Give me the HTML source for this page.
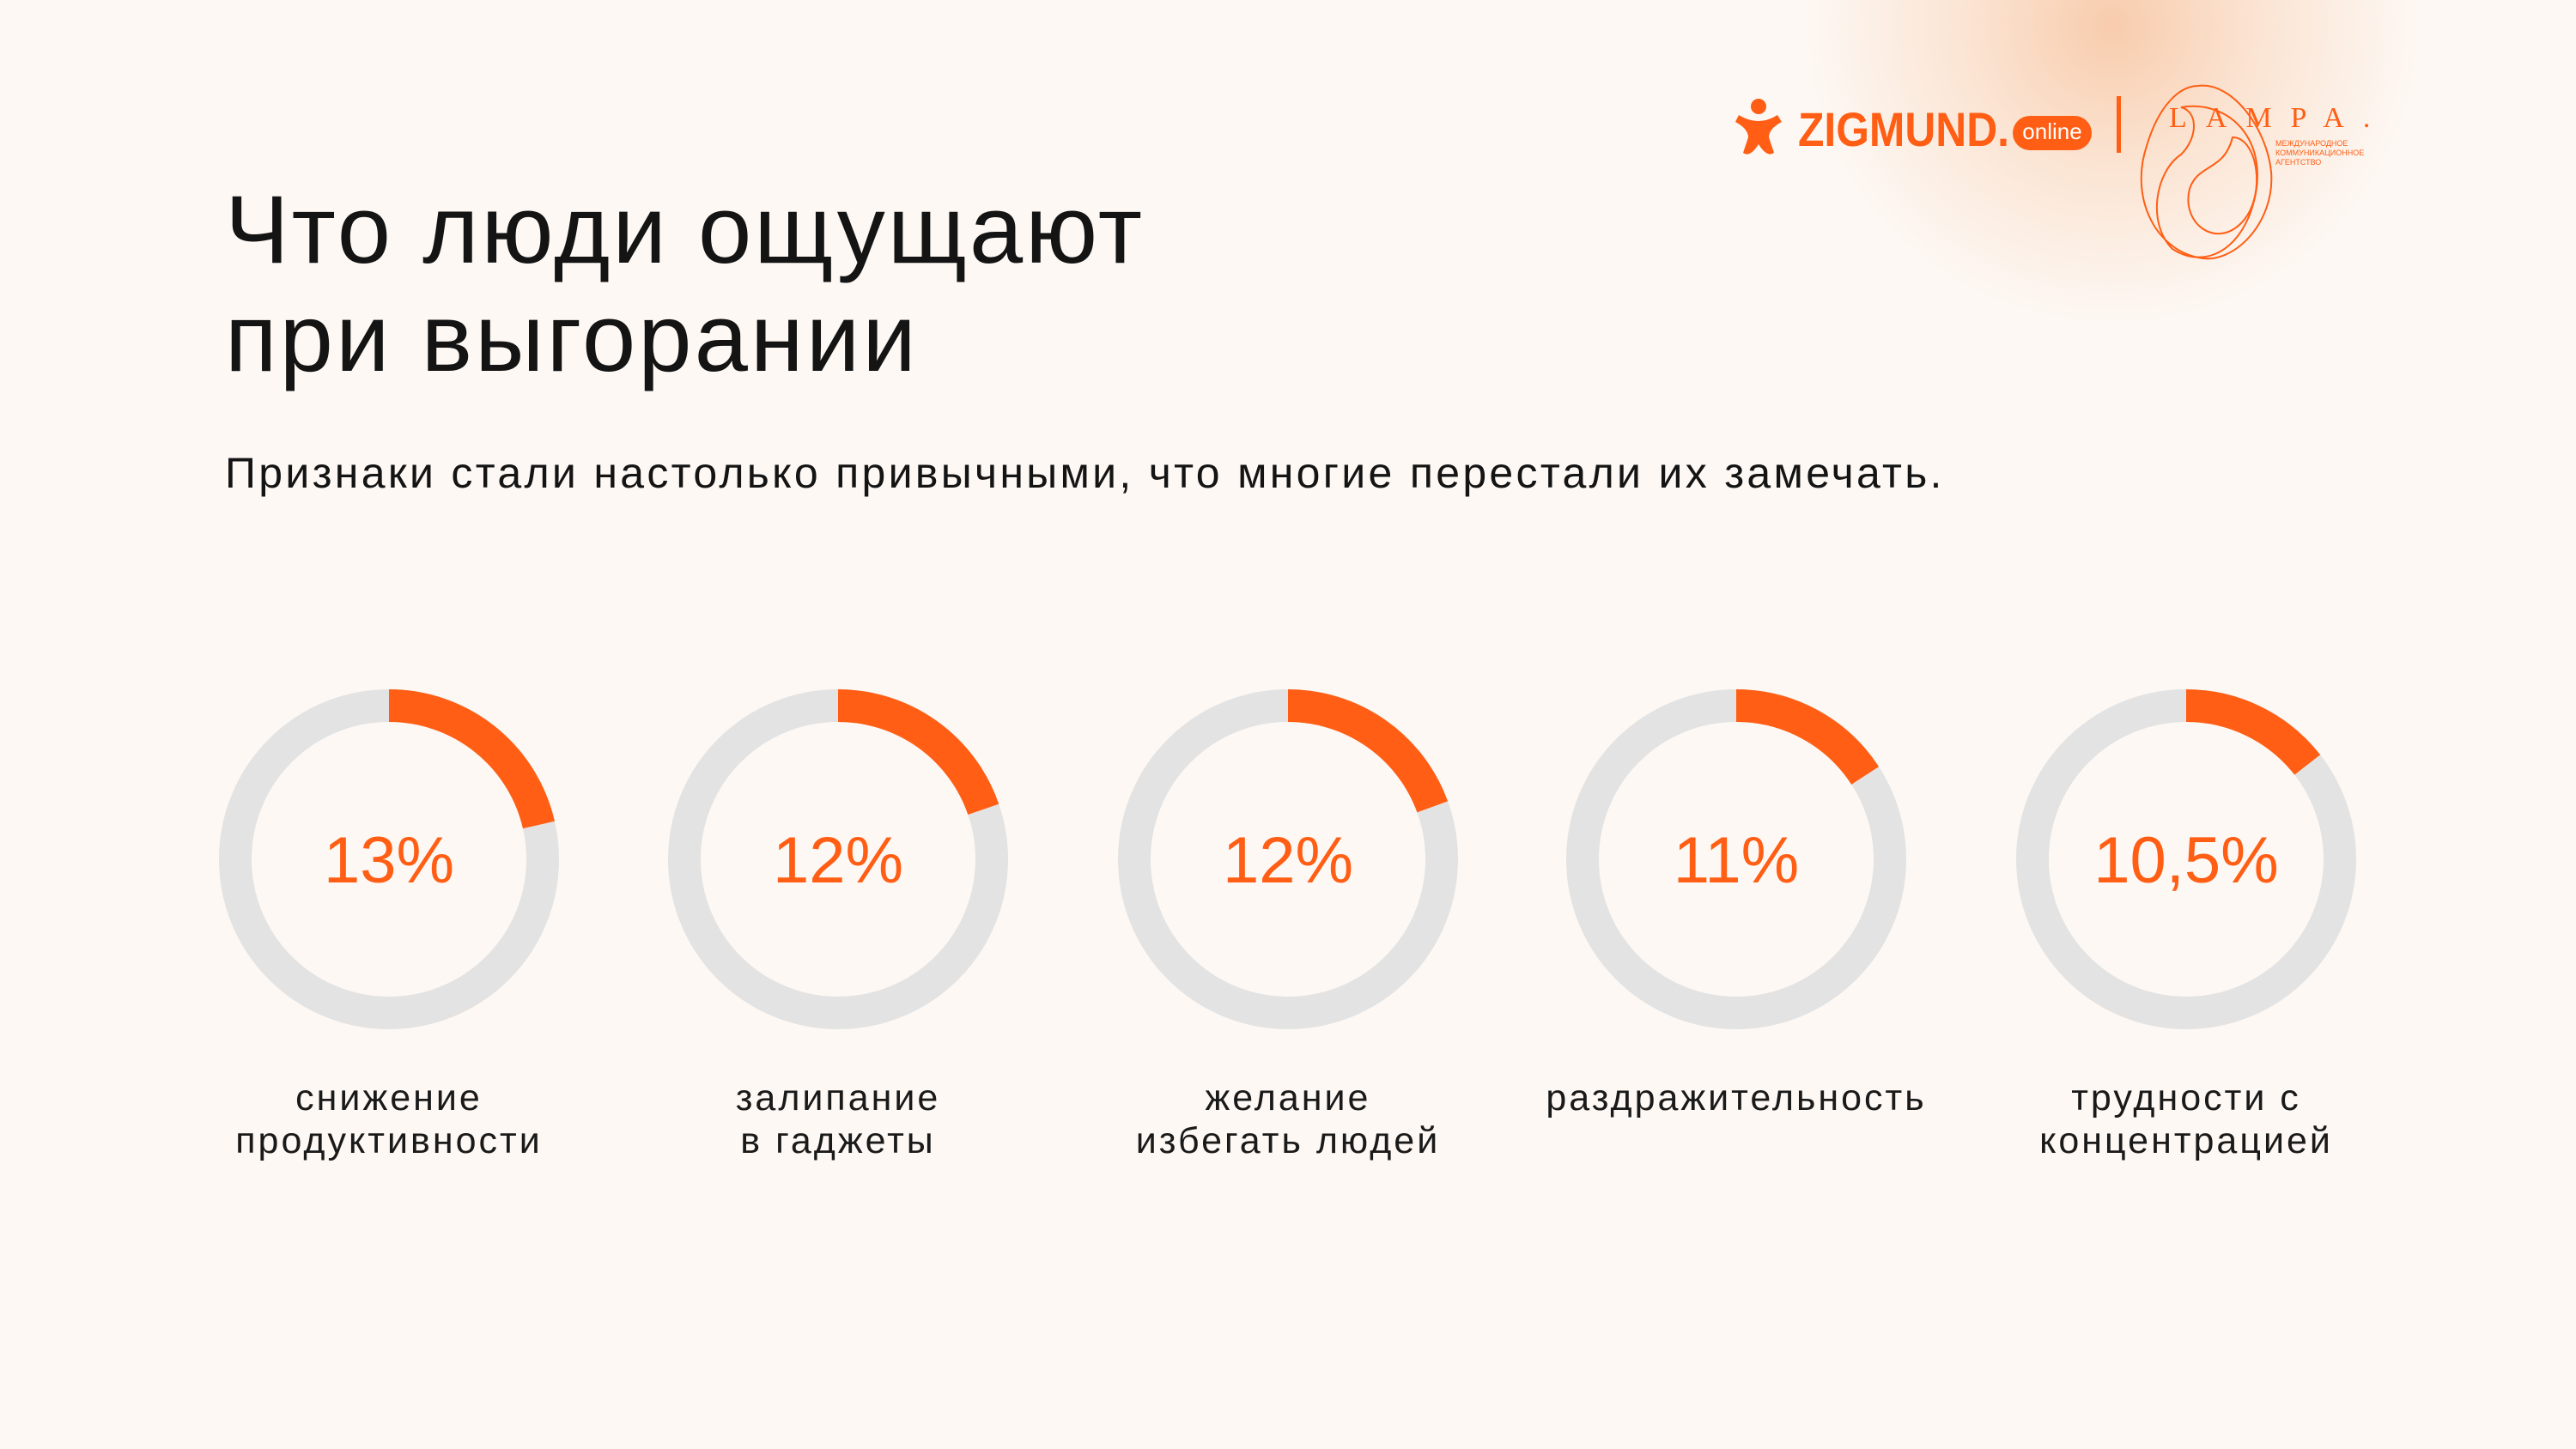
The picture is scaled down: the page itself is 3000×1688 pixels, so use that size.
<!DOCTYPE html>
<html><head><meta charset="utf-8"><style>
html,body{margin:0;padding:0}
body{width:3000px;height:1688px;overflow:hidden;background:#fdf8f4;position:relative;font-family:"Liberation Sans","DejaVu Sans",sans-serif}
.glow{position:absolute;left:2100px;top:-320px;width:720px;height:700px;border-radius:50%;background:radial-gradient(closest-side,rgba(247,196,160,0.85) 0%,rgba(249,210,180,0.55) 45%,rgba(253,248,244,0) 100%)}
.t{position:absolute;left:262px;color:#141414;white-space:nowrap}
</style></head><body>
<div class="glow"></div>
<div class="t" style="top:205px;font-size:112px;line-height:126px;letter-spacing:3px">Что люди ощущают<br>при выгорании</div>
<div class="t" style="top:522px;font-size:50px;letter-spacing:3.3px">Признаки стали настолько привычными, что многие перестали их замечать.</div>
<svg width="3000" height="1688" style="position:absolute;left:0;top:0" xmlns="http://www.w3.org/2000/svg">
<g font-family="Liberation Sans, sans-serif">
<g fill="#ff5e14">
<circle cx="2048" cy="124" r="9"/>
<path d="M2025 134 Q2048 148 2070 134 L2075 142 Q2060 150 2060 160 L2066 178 Q2058 184 2048 168 Q2038 184 2030 178 L2036 160 Q2036 150 2021 142Z"/>
<text x="2094" y="170" font-size="56" font-weight="bold" textLength="246" lengthAdjust="spacingAndGlyphs">ZIGMUND.</text>
<rect x="2344" y="135" width="92" height="40" rx="20"/>
</g>
<text x="2390" y="162" font-size="26" fill="#fff" text-anchor="middle">online</text>
<rect x="2465" y="112" width="5" height="66" fill="#ff5e14"/>
<g fill="none" stroke="#ff5e14" stroke-width="2">
<path d="M2560 100 C2600 95 2640 150 2645 200 C2650 260 2600 310 2560 300 C2510 290 2480 230 2500 170 C2515 120 2540 100 2560 100Z"/>
<path d="M2540 125 C2600 115 2650 170 2620 250 C2600 300 2560 310 2530 290 C2500 260 2510 200 2540 180 C2560 160 2560 130 2540 125Z"/>
<path d="M2600 160 C2630 160 2640 230 2610 260 C2580 290 2540 260 2550 220 C2560 190 2590 200 2600 160Z"/>
</g>
<text x="2526" y="148" font-size="34" fill="#ff5e14" font-family="Liberation Serif, serif" letter-spacing="22">LAMPA.</text>
<text x="2650" y="170" font-size="9" fill="#ff5e14">МЕЖДУНАРОДНОЕ</text>
<text x="2650" y="181" font-size="9" fill="#ff5e14">КОММУНИКАЦИОННОЕ</text>
<text x="2650" y="192" font-size="9" fill="#ff5e14">АГЕНТСТВО</text>

<g fill="none" stroke-width="38">
<circle cx="453" cy="1001" r="179" stroke="#e3e3e3"/>
<circle cx="976" cy="1001" r="179" stroke="#e3e3e3"/>
<circle cx="1500" cy="1001" r="179" stroke="#e3e3e3"/>
<circle cx="2022" cy="1001" r="179" stroke="#e3e3e3"/>
<circle cx="2546" cy="1001" r="179" stroke="#e3e3e3"/>
<g stroke="#ff5e14">
<circle cx="453" cy="1001" r="179" transform="rotate(-90 453 1001)" stroke-dasharray="240.6 2000"/>
<circle cx="976" cy="1001" r="179" transform="rotate(-90 976 1001)" stroke-dasharray="221.8 2000"/>
<circle cx="1500" cy="1001" r="179" transform="rotate(-90 1500 1001)" stroke-dasharray="218.7 2000"/>
<circle cx="2022" cy="1001" r="179" transform="rotate(-90 2022 1001)" stroke-dasharray="178 2000"/>
<circle cx="2546" cy="1001" r="179" transform="rotate(-90 2546 1001)" stroke-dasharray="162.5 2000"/>
</g>
</g>
<g fill="#ff5e14" font-size="76" text-anchor="middle">
<text x="453" y="1028">13%</text>
<text x="976" y="1028">12%</text>
<text x="1500" y="1028">12%</text>
<text x="2022" y="1028">11%</text>
<text x="2546" y="1028">10,5%</text>
</g>
<g fill="#1a1a1a" font-size="43" text-anchor="middle" letter-spacing="3">
<text x="453" y="1293">снижение</text><text x="453" y="1343">продуктивности</text>
<text x="976" y="1293">залипание</text><text x="976" y="1343">в гаджеты</text>
<text x="1500" y="1293">желание</text><text x="1500" y="1343">избегать людей</text>
<text x="2022" y="1293">раздражительность</text>
<text x="2546" y="1293">трудности с</text><text x="2546" y="1343">концентрацией</text>
</g>
</g>
</svg>
</body></html>
